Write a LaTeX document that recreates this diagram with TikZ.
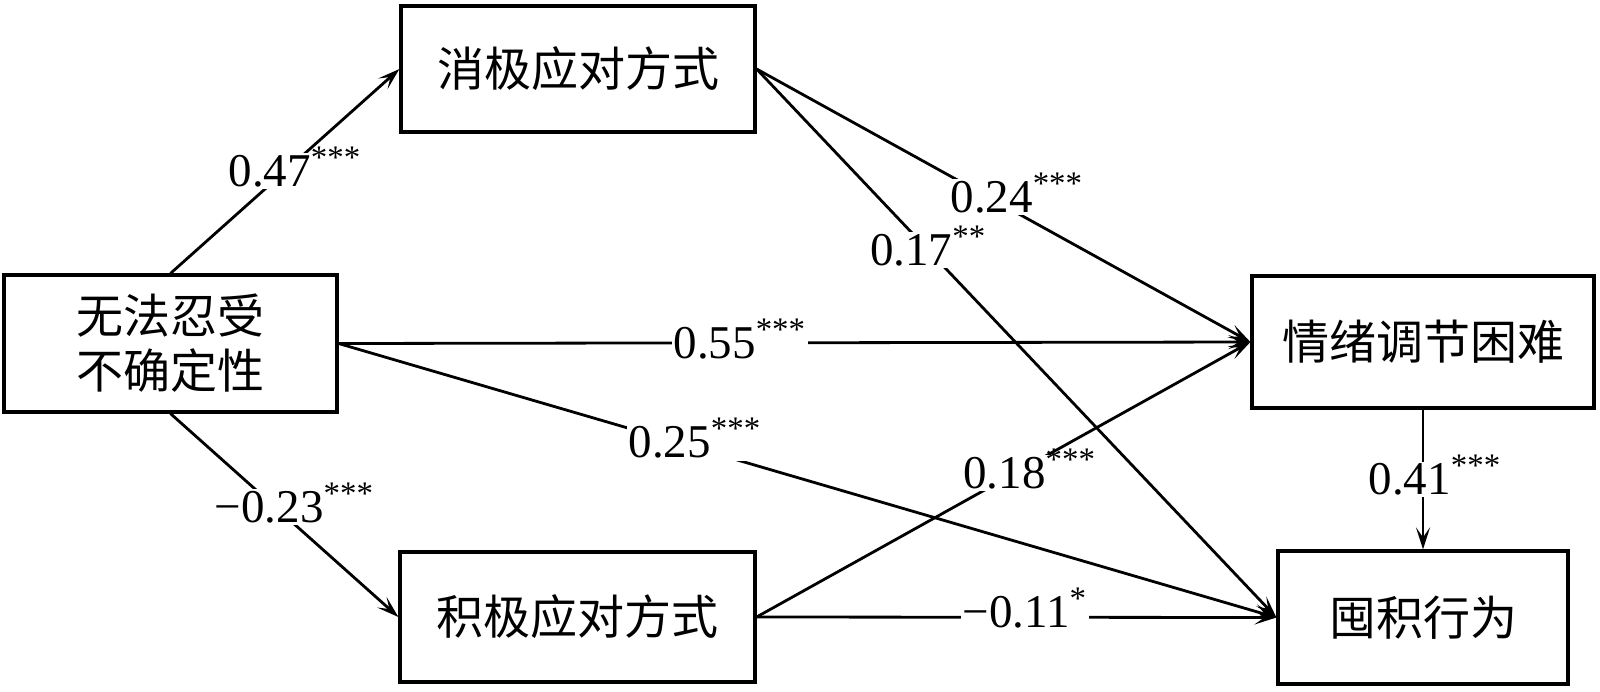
\documentclass[tikz,border=0pt]{standalone}
\usepackage{fontspec}
\setmainfont{Liberation Serif}
\newfontfamily\cjk{Noto Sans CJK SC}
\usetikzlibrary{arrows.meta}
\newcommand\sg[1]{\textsuperscript{\smash{#1}}}
\begin{document}
\begin{tikzpicture}[x=0.5pt,y=-0.5pt,
  box/.style={draw, line width=1.6pt, inner sep=0pt, align=center,
    font=\cjk\fontsize{23.5}{27.5}\selectfont},
  arr/.style={line width=1.4pt, -{Stealth[length=11pt,width=7pt,inset=5pt]}},
  lbl/.style={fill=white, inner sep=1pt, font=\fontsize{23.5}{28}\selectfont}]
\useasboundingbox (0,0) rectangle (1600,691);
\node[box, minimum width=177pt, minimum height=63pt] (neg) at (578,69) {消极应对方式};
\node[box, minimum width=166.5pt, minimum height=68.5pt] (iu) at (170.5,343.5) {无法忍受\\不确定性};
\node[box, minimum width=177.5pt, minimum height=65pt] (pos) at (577.5,617) {积极应对方式};
\node[box, minimum width=171pt, minimum height=66pt] (emo) at (1423,342) {情绪调节困难};
\node[box, minimum width=145pt, minimum height=66.5pt] (hoard) at (1423,617.5) {囤积行为};

\draw[arr] (iu.north) -- node[lbl, pos=0.5, xshift=5pt] {0.47\sg{***}} (neg.west);
\draw[arr] (iu.south) -- node[lbl, pos=0.5, xshift=5pt, yshift=4pt] {−0.23\sg{***}} (pos.west);
\draw[arr] (iu.east) -- node[lbl, pos=0.44] {0.55\sg{***}} (emo.west);
\draw[arr] (iu.east) -- node[lbl, pos=0.38, yshift=2.5pt] {0.25\sg{***}} (hoard.west);
\draw[arr] (neg.east) -- node[lbl, pos=0.527, yshift=8pt] {0.24\sg{***}} (emo.west);
\draw[arr] (neg.east) -- node[lbl, pos=0.33] {0.17\sg{**}} (hoard.west);
\draw[arr] (pos.east) -- node[lbl, pos=0.553, yshift=-4pt] {0.18\sg{***}} (emo.west);
\draw[arr] (pos.east) -- node[lbl, pos=0.516, yshift=2.5pt] {−0.11\sg{*}} (hoard.west);
\draw[arr] (emo.south) -- node[lbl, pos=0.5, xshift=6pt] {0.41\sg{***}} (hoard.north);
\end{tikzpicture}
\end{document}
